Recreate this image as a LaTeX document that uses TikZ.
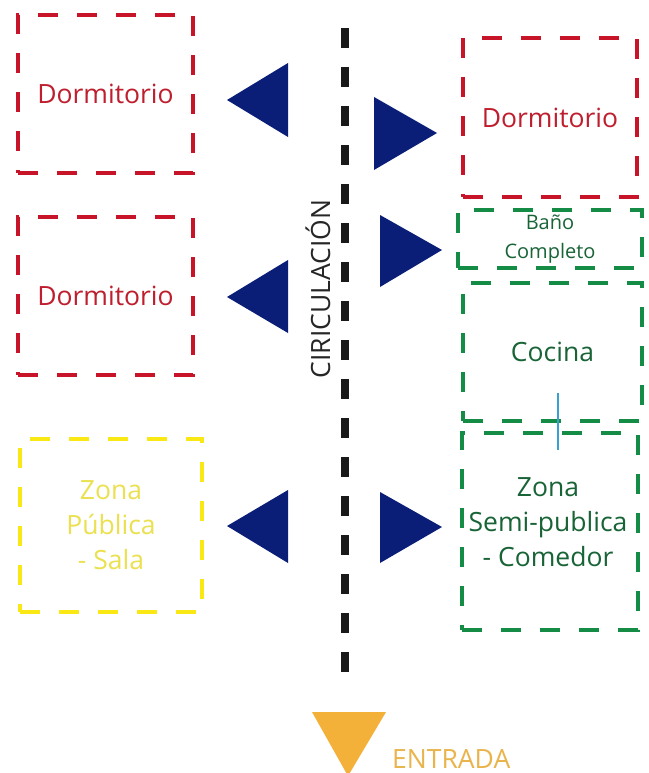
\documentclass[tikz,border=0pt]{standalone}
\usepackage{fontspec}
\setmainfont{Open Sans}
\definecolor{boxred}{RGB}{200,20,40}
\definecolor{txtred}{RGB}{190,30,45}
\definecolor{boxgreen}{RGB}{20,140,70}
\definecolor{txtgreen}{RGB}{25,100,55}
\definecolor{boxyellow}{RGB}{250,232,20}
\definecolor{txtyellow}{RGB}{235,225,80}
\definecolor{navy}{RGB}{10,30,120}
\definecolor{orangeA}{RGB}{244,177,58}
\definecolor{txtorange}{RGB}{233,180,76}
\definecolor{lightblue}{RGB}{58,160,208}
\begin{document}
\begin{tikzpicture}[x=1pt,y=-1pt,
  zonetext/.style={align=center, inner sep=0pt, font=\fontsize{26.5}{35}\selectfont},
  zone/.style={zonetext, draw, dash pattern=on 20pt off 19pt, line width=4.5pt},
  redzone/.style={zone, draw=boxred, text=txtred},
  greenzone/.style={zone, draw=boxgreen, text=txtgreen},
  yellowzone/.style={zone, draw=boxyellow, text=txtyellow},
  arrowtri/.style={fill=navy},
  axis/.style={draw=black!90, line width=8pt, dash pattern=on 20pt off 19pt}
]
\useasboundingbox (0,0) rectangle (648,773);
\fill[white] (0,0) rectangle (648,773);

% zones
\node[redzone, minimum width=175pt, minimum height=158pt] (dormL1) at (105.5,94) {Dormitorio};
\node[redzone, minimum width=175pt, minimum height=158pt] (dormL2) at (105.5,296) {Dormitorio};
\node[yellowzone, minimum width=182pt, minimum height=173pt] (sala) at (111,525.5) {Zona\\Pública\\- Sala};
\node[redzone, minimum width=174pt, minimum height=159pt] (dormR) at (550,117.5) {Dormitorio};
\node[greenzone, minimum width=184pt, minimum height=58pt, font=\fontsize{20}{29}\selectfont] (bano) at (550,239) {Baño\\Completo};
\node[greenzone, minimum width=179pt, minimum height=138pt] (cocina) at (552.5,352) {\raisebox{-3pt}{Cocina}};
\node[greenzone, minimum width=176pt, minimum height=197pt] (comedor) at (550,531.5) {};
\node[zonetext, text=txtgreen] (comedorText) at (548,522) {Zona\\Semi-publica\\- Comedor};

% circulation axis
\coordinate (axisTop) at (345,28);
\coordinate (axisBot) at (345,673);
\draw[axis] (axisTop) -- (axisBot);
\node[rotate=90, font=\fontsize{26.5}{30}\selectfont, text=black!85] (circ) at (318,289) {CIRICULACIÓN};

% direction triangles
\fill[arrowtri] (227,100) -- (288,63) -- (288,137) -- cycle;
\fill[arrowtri] (227,297) -- (288,260) -- (288,333) -- cycle;
\fill[arrowtri] (227,526) -- (288,490) -- (288,563) -- cycle;
\fill[arrowtri] (437,133) -- (374,97) -- (374,170) -- cycle;
\fill[arrowtri] (442,250) -- (380,215) -- (380,287) -- cycle;
\fill[arrowtri] (442,527) -- (380,492) -- (380,563) -- cycle;

% link kitchen - dining
\coordinate (linkTop) at (558,393);
\coordinate (linkBot) at (558,450);
\draw[lightblue, line width=1.5pt] (linkTop) -- (linkBot);

% entrance
\fill[orangeA] (312,712) -- (386,712) -- (348,776) -- cycle;
\node[anchor=base west, inner sep=0pt, text=txtorange, font=\fontsize{26.5}{30}\selectfont] (entrada) at (392,768) {ENTRADA};
\end{tikzpicture}
\end{document}
